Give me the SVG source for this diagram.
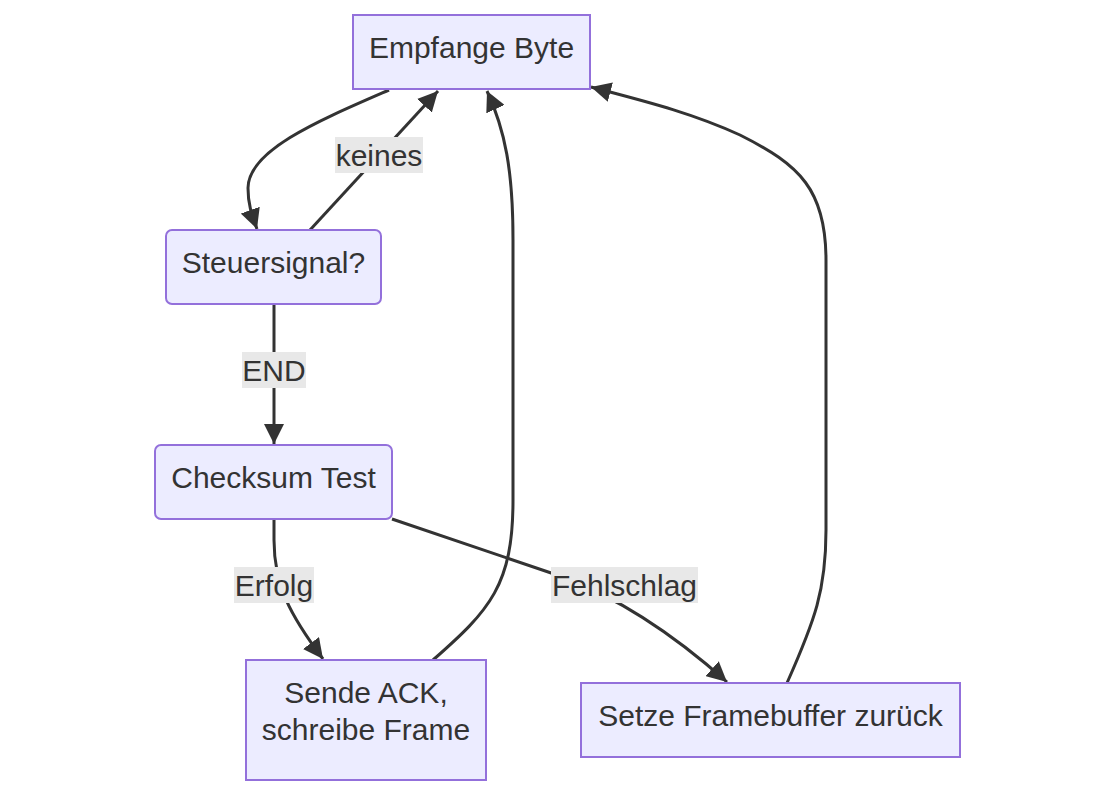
<svg xmlns="http://www.w3.org/2000/svg" width="1116" height="796" viewBox="0 0 1116 796">
<style>
.node rect{fill:#ECECFF;stroke:#9370DB;stroke-width:2}
.node text,.lbl text{font-family:"Liberation Sans",Arial,sans-serif;font-size:30px;fill:#333;text-anchor:middle}
.edge{fill:none;stroke:#333;stroke-width:3}
.lbl rect{fill:#e8e8e8}
</style>
<defs>
<marker id="arr" markerUnits="userSpaceOnUse" markerWidth="20" markerHeight="20" viewBox="0 0 10 10" refX="10" refY="5" orient="auto">
<path d="M0,0 L10,5 L0,10 z" fill="#333"/>
</marker>
</defs>
<rect width="1116" height="796" fill="#fff"/>
<g id="connectors">
<path class="edge" d="M389,90 C320,120 248,150 248,188 C248,205 252,215 257,229" marker-end="url(#arr)"/>
<path class="edge" d="M310,230 L438,91" marker-end="url(#arr)"/>
<path class="edge" d="M274,304 L274,444" marker-end="url(#arr)"/>
<path class="edge" d="M274,520 L274,540 C274,585 290,615 323,659" marker-end="url(#arr)"/>
<path class="edge" d="M392,519 L560,576 C625,600 680,640 727,682" marker-end="url(#arr)"/>
<path class="edge" d="M433,660 C490,610 513,585 513,500 L513,240 C513,170 505,130 487,91" marker-end="url(#arr)"/>
<path class="edge" d="M787,683 C815,620 826,590 826,530 L826,260 C826,190 800,165 740,135 C690,112 640,100 591,87" marker-end="url(#arr)"/>
</g>
<g id="labels">
<g class="lbl"><rect x="335" y="137" width="88" height="36"/><text x="379" y="166">keines</text></g>
<g class="lbl"><rect x="242" y="352" width="64" height="36"/><text x="274" y="381">END</text></g>
<g class="lbl"><rect x="234" y="567" width="80" height="36"/><text x="274" y="596">Erfolg</text></g>
<g class="lbl"><rect x="551" y="567" width="147" height="36"/><text x="624.5" y="596">Fehlschlag</text></g>
</g>
<g id="empfange" class="node"><rect x="353" y="15" width="237" height="74"/><text x="471.5" y="58">Empfange Byte</text></g>
<g id="steuer" class="node"><rect x="166" y="230" width="215" height="74" rx="6"/><text x="273.5" y="273">Steuersignal?</text></g>
<g id="checksum" class="node"><rect x="155" y="445" width="237" height="74" rx="6"/><text x="273.5" y="488">Checksum Test</text></g>
<g id="sende" class="node"><rect x="246" y="660" width="240" height="120"/><text x="366" y="703">Sende ACK,</text><text x="366" y="740">schreibe Frame</text></g>
<g id="setze" class="node"><rect x="581" y="683" width="379" height="74"/><text x="770.5" y="726">Setze Framebuffer zurück</text></g>
</svg>
